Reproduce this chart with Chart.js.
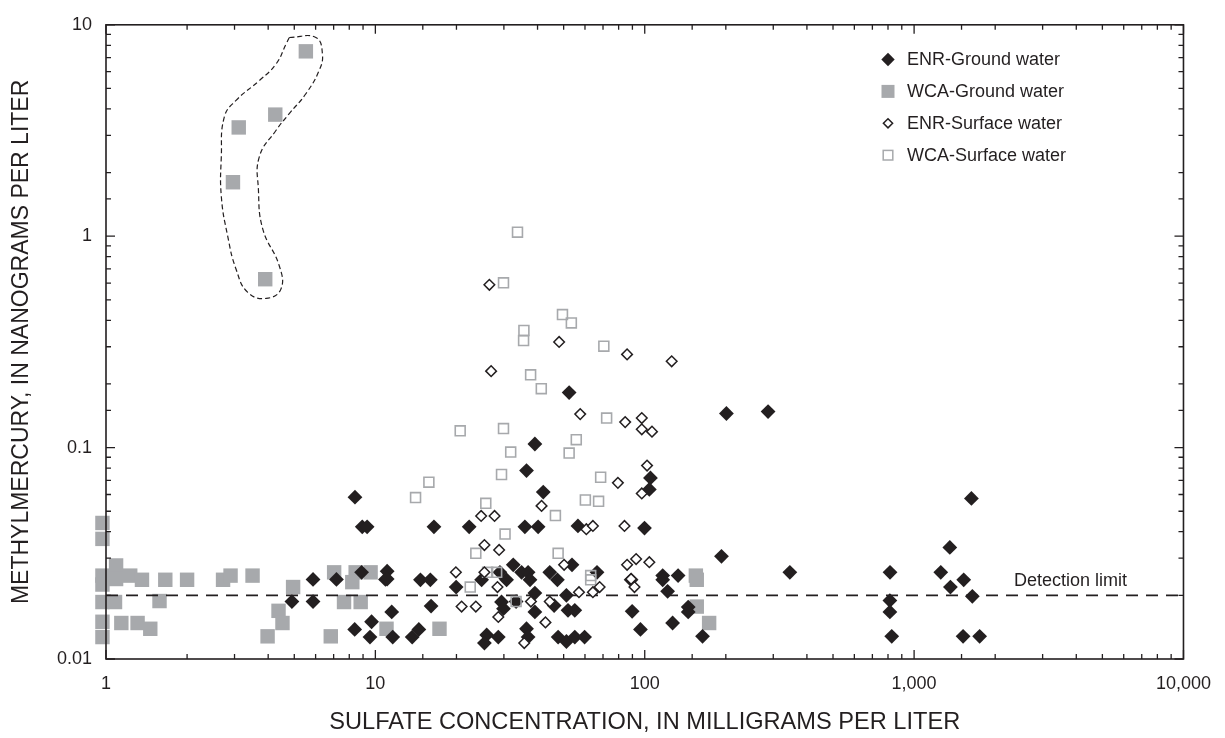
<!DOCTYPE html>
<html>
<head>
<meta charset="utf-8">
<title>Methylmercury and sulfate</title>
<script src="https://cdn.jsdelivr.net/npm/chart.js@4.4.1/dist/chart.umd.min.js"></script>
<style>
  html, body { margin: 0; padding: 0; background: #fff; }
  #wrap { width: 1225px; height: 738px; }
</style>
</head>
<body>
<div id="wrap"><canvas id="chart" width="1225" height="738"></canvas></div>
<script>
// each sample is [sulfate mg/L, methylmercury ng/L]
const enrGround = [
  [4.9, 0.0187], [5.87, 0.0187], [5.87, 0.0238], [7.17, 0.0238], [8.89, 0.0257], [10.9, 0.0238],
  [8.38, 0.0138], [9.68, 0.015], [9.55, 0.0127], [8.4, 0.0583], [8.94, 0.0422], [9.32, 0.0422],
  [16.5, 0.0422], [22.3, 0.0422], [11.06, 0.026], [11.06, 0.0239], [14.7, 0.0237], [16.0, 0.0237],
  [19.95, 0.0219], [11.5, 0.0167], [16.1, 0.0178], [11.6, 0.0127], [13.7, 0.0127], [14.5, 0.0138],
  [35.9, 0.0422], [40.2, 0.0422], [56.5, 0.0426], [99.8, 0.0416], [39.1, 0.104], [36.4, 0.0779],
  [42.0, 0.0616], [32.5, 0.0279], [34.9, 0.0257], [36.9, 0.0257], [24.8, 0.0237], [30.7, 0.0237],
  [37.5, 0.0237], [29.0, 0.0257], [44.4, 0.0257], [47.4, 0.0237], [53.7, 0.0279], [39.1, 0.0205],
  [29.4, 0.0186], [29.9, 0.0173], [39.1, 0.0167], [46.1, 0.0179], [51.2, 0.02], [51.9, 0.017],
  [55.0, 0.017], [25.9, 0.013], [28.6, 0.0127], [25.4, 0.0119], [36.4, 0.0139], [36.9, 0.0127],
  [47.7, 0.0127], [51.2, 0.0121], [55.0, 0.0127], [59.8, 0.0127], [52.4, 0.182], [105, 0.0719],
  [104, 0.0634], [66.5, 0.0257], [89.0, 0.0237], [116.6, 0.0248], [116.6, 0.0237], [133, 0.0248],
  [121.6, 0.0209], [145, 0.0176], [145, 0.0167], [89.8, 0.0168], [126.9, 0.0148], [96.4, 0.0138],
  [163.9, 0.0128], [192.7, 0.0306], [345.7, 0.0257], [814, 0.0257], [813, 0.0189], [813, 0.0167],
  [826, 0.0128], [1632, 0.0575], [1357, 0.0337], [1256, 0.0257], [1528, 0.0237], [1364, 0.0219],
  [1645, 0.0198], [1520, 0.0128], [1751, 0.0128], [201, 0.145], [287, 0.148], [33.3, 0.0187]
];

const wcaGround = [
  [5.52, 7.49], [4.25, 3.76], [3.11, 3.27], [2.96, 1.8], [3.9, 0.626],
  [0.97, 0.044], [0.97, 0.037], [0.97, 0.0248], [0.97, 0.0225], [1.09, 0.0277], [1.09, 0.0239],
  [1.23, 0.0248], [1.36, 0.0237], [1.66, 0.0237], [2.0, 0.0237], [2.72, 0.0237], [2.9, 0.0248],
  [3.5, 0.0248], [0.97, 0.0186], [1.08, 0.0186], [1.58, 0.0188], [0.97, 0.015], [1.14, 0.0148],
  [1.31, 0.0148], [1.46, 0.0139], [0.97, 0.0127], [4.95, 0.0219], [4.37, 0.0169], [4.52, 0.0148],
  [3.98, 0.0128], [6.83, 0.0128], [7.03, 0.0257], [8.45, 0.0257], [9.6, 0.0257], [8.21, 0.0231],
  [7.65, 0.0186], [8.82, 0.0186], [11.0, 0.0139], [17.3, 0.0139], [154.8, 0.0248], [156, 0.0237],
  [156, 0.0177], [173.4, 0.0148]
];

const enrSurface = [
  [26.5, 0.589], [48.1, 0.316], [86.0, 0.276], [125.9, 0.256], [26.9, 0.23], [57.6, 0.144],
  [84.6, 0.132], [97.5, 0.138], [97.5, 0.122], [106.4, 0.119], [102, 0.0822], [79.5, 0.0681],
  [97.5, 0.0607], [41.4, 0.053], [24.7, 0.0475], [27.7, 0.0475], [60.7, 0.0411], [64.2, 0.0426],
  [84.1, 0.0426], [25.4, 0.0346], [28.8, 0.0328], [25.4, 0.0257], [28.4, 0.0219], [28.6, 0.0158],
  [37.8, 0.0187], [42.8, 0.0149], [44.4, 0.0187], [35.7, 0.0119], [50.2, 0.0279], [57.0, 0.0207],
  [64.2, 0.0207], [19.9, 0.0257], [20.9, 0.0177], [23.6, 0.0177], [68.0, 0.0219], [86.0, 0.0279],
  [92.9, 0.0297], [104, 0.0287], [89.0, 0.0239], [91.6, 0.0219]
];

const wcaSurface = [
  [33.7, 1.045], [29.9, 0.602], [49.5, 0.426], [53.4, 0.389], [35.6, 0.358], [35.5, 0.321],
  [70.5, 0.302], [37.7, 0.221], [41.3, 0.19], [20.65, 0.12], [29.9, 0.123], [72.2, 0.138],
  [55.7, 0.109], [52.4, 0.0942], [31.8, 0.0952], [29.4, 0.0746], [68.6, 0.0724], [15.8, 0.0686],
  [14.1, 0.058], [25.7, 0.0545], [60.2, 0.0565], [67.4, 0.0557], [46.6, 0.0477], [30.3, 0.039],
  [23.6, 0.0316], [47.7, 0.0316], [26.1, 0.0257], [28.2, 0.0257], [22.5, 0.0219], [33.3, 0.0187],
  [63.0, 0.0248], [63.0, 0.0237]
];

// dashed loop drawn round the high WCA ground-water samples
const circledOutline = [
  [4.79, 8.71], [6.01, 8.71], [6.36, 7.28], [6.18, 6.07], [5.52, 4.72], [4.79, 3.8],
  [4.28, 3.17], [3.71, 2.38], [3.68, 1.66], [3.82, 1.08], [4.4, 0.723], [4.46, 0.562],
  [3.93, 0.508], [3.36, 0.542], [3.04, 0.698], [2.83, 1.0], [2.68, 1.54], [2.68, 2.38],
  [2.75, 3.67], [3.04, 4.39], [3.71, 5.45], [4.28, 6.53], [4.66, 8.11], [4.79, 8.71]
];

const detectionLimit = 0.02;
const xRange = [1, 10000];
const yRange = [0.01, 10];
const xTickValues = [1, 10, 100, 1000, 10000];
const xTickLabels = ['1', '10', '100', '1,000', '10,000'];
const yTickValues = [0.01, 0.1, 1, 10];
const yTickLabels = ['0.01', '0.1', '1', '10'];
const seriesNames = ['ENR-Ground water', 'WCA-Ground water', 'ENR-Surface water', 'WCA-Surface water'];

const INK = '#231f20';
const GREY = '#a7a9ac';
const FONT = '"Liberation Sans", Arial, Helvetica, sans-serif';

const toXY = arr => arr.map(p => ({ x: p[0], y: p[1] }));

function labelFor(values, labels, v) {
  for (let i = 0; i < values.length; i++) {
    if (Math.abs(Math.log10(v) - Math.log10(values[i])) < 1e-6) return labels[i];
  }
  return '';
}

function isDecade(v) {
  const l = Math.log10(v);
  return Math.abs(l - Math.round(l)) < 1e-6;
}

// frame, inward tick marks on all four sides
const framePlugin = {
  id: 'frame',
  afterDraw(chart) {
    const { ctx, chartArea: a, scales: { x, y } } = chart;
    ctx.save();
    ctx.strokeStyle = INK;
    ctx.lineWidth = 1.3;
    ctx.beginPath();
    x.ticks.forEach(t => {
      const px = x.getPixelForValue(t.value);
      const len = isDecade(t.value) ? 9 : 5;
      ctx.moveTo(px, a.bottom); ctx.lineTo(px, a.bottom - len);
      ctx.moveTo(px, a.top); ctx.lineTo(px, a.top + len);
    });
    y.ticks.forEach(t => {
      const py = y.getPixelForValue(t.value);
      const len = isDecade(t.value) ? 9 : 5;
      ctx.moveTo(a.left, py); ctx.lineTo(a.left + len, py);
      ctx.moveTo(a.right, py); ctx.lineTo(a.right - len, py);
    });
    ctx.stroke();
    ctx.lineWidth = 1.6;
    ctx.strokeRect(a.left, a.top, a.right - a.left, a.bottom - a.top);

    // detection limit label
    ctx.fillStyle = INK;
    ctx.font = '18px ' + FONT;
    ctx.textAlign = 'left';
    ctx.textBaseline = 'middle';
    ctx.fillText('Detection limit', x.getPixelForValue(2350), y.getPixelForValue(detectionLimit) - 14);

    // legend
    const lx = 888, tx = 907;
    seriesNames.forEach((name, i) => {
      const ly = 59.5 + i * 31.9;
      ctx.beginPath();
      if (i === 0) {
        ctx.moveTo(lx - 6.7, ly); ctx.lineTo(lx, ly - 6.7); ctx.lineTo(lx + 6.7, ly); ctx.lineTo(lx, ly + 6.7);
        ctx.closePath(); ctx.fillStyle = INK; ctx.fill();
      } else if (i === 1) {
        ctx.fillStyle = GREY; ctx.fillRect(lx - 6.5, ly - 6.5, 13, 13);
      } else if (i === 2) {
        ctx.moveTo(lx - 4.6, ly); ctx.lineTo(lx, ly - 4.6); ctx.lineTo(lx + 4.6, ly); ctx.lineTo(lx, ly + 4.6);
        ctx.closePath(); ctx.lineWidth = 1.5; ctx.strokeStyle = INK; ctx.stroke();
      } else {
        ctx.lineWidth = 1.5; ctx.strokeStyle = GREY; ctx.strokeRect(lx - 4.8, ly - 4.8, 9.6, 9.6);
      }
      ctx.fillStyle = INK;
      ctx.fillText(name, tx, ly + 1);
    });
    ctx.restore();
  }
};

new Chart(document.getElementById('chart'), {
  type: 'scatter',
  data: {
    datasets: [
      { label: seriesNames[0], data: toXY(enrGround), pointStyle: 'rectRot', pointRadius: 7.4,
        backgroundColor: INK, borderColor: INK, borderWidth: 0, order: 3, clip: false },
      { label: seriesNames[1], data: toXY(wcaGround), pointStyle: 'rect', pointRadius: 10.2,
        backgroundColor: GREY, borderColor: GREY, borderWidth: 0, order: 4, clip: false },
      { label: seriesNames[2], data: toXY(enrSurface), pointStyle: 'rectRot', pointRadius: 5.3,
        backgroundColor: '#ffffff', borderColor: INK, borderWidth: 1.5, order: 0, clip: false },
      { label: seriesNames[3], data: toXY(wcaSurface), pointStyle: 'rect', pointRadius: 7,
        backgroundColor: 'rgba(255,255,255,0)', borderColor: GREY, borderWidth: 1.6, order: 1, clip: false },
      { label: 'Detection limit', data: [{ x: xRange[0], y: detectionLimit }, { x: xRange[1], y: detectionLimit }],
        showLine: true, borderColor: INK, borderWidth: 1.8, borderDash: [12, 8], pointRadius: 0, order: 2 },
      { label: 'outline', data: toXY(circledOutline), showLine: true, tension: 0.45,
        borderColor: INK, borderWidth: 1.2, borderDash: [5, 3], pointRadius: 0, order: 5, clip: false }
    ]
  },
  options: {
    responsive: false,
    animation: false,
    devicePixelRatio: 1,
    layout: { padding: { top: 20.5, right: 37, bottom: 0, left: 0 } },
    plugins: { legend: { display: false }, tooltip: { enabled: false } },
    events: [],
    scales: {
      x: {
        type: 'logarithmic',
        min: xRange[0], max: xRange[1],
        grid: { display: false, drawTicks: false },
        border: { display: false },
        ticks: {
          autoSkip: false, maxRotation: 0, padding: 14, color: INK,
          font: { family: FONT, size: 18 },
          callback: v => labelFor(xTickValues, xTickLabels, v)
        },
        title: {
          display: true, text: 'SULFATE CONCENTRATION, IN MILLIGRAMS PER LITER',
          color: INK, font: { family: FONT, size: 23.6 }, padding: { top: 0, bottom: 1 }
        },
        afterFit: s => { s.height = 79; }
      },
      y: {
        type: 'logarithmic',
        min: yRange[0], max: yRange[1],
        grid: { display: false, drawTicks: false },
        border: { display: false },
        ticks: {
          autoSkip: false, padding: 14, color: INK,
          font: { family: FONT, size: 18 },
          callback: v => labelFor(yTickValues, yTickLabels, v)
        },
        title: {
          display: true, text: 'METHYLMERCURY, IN NANOGRAMS PER LITER',
          color: INK, font: { family: FONT, size: 23 }, padding: { top: 8, bottom: 0 }
        },
        afterFit: s => { s.width = 106; }
      }
    }
  },
  plugins: [framePlugin]
});
</script>
</body>
</html>
